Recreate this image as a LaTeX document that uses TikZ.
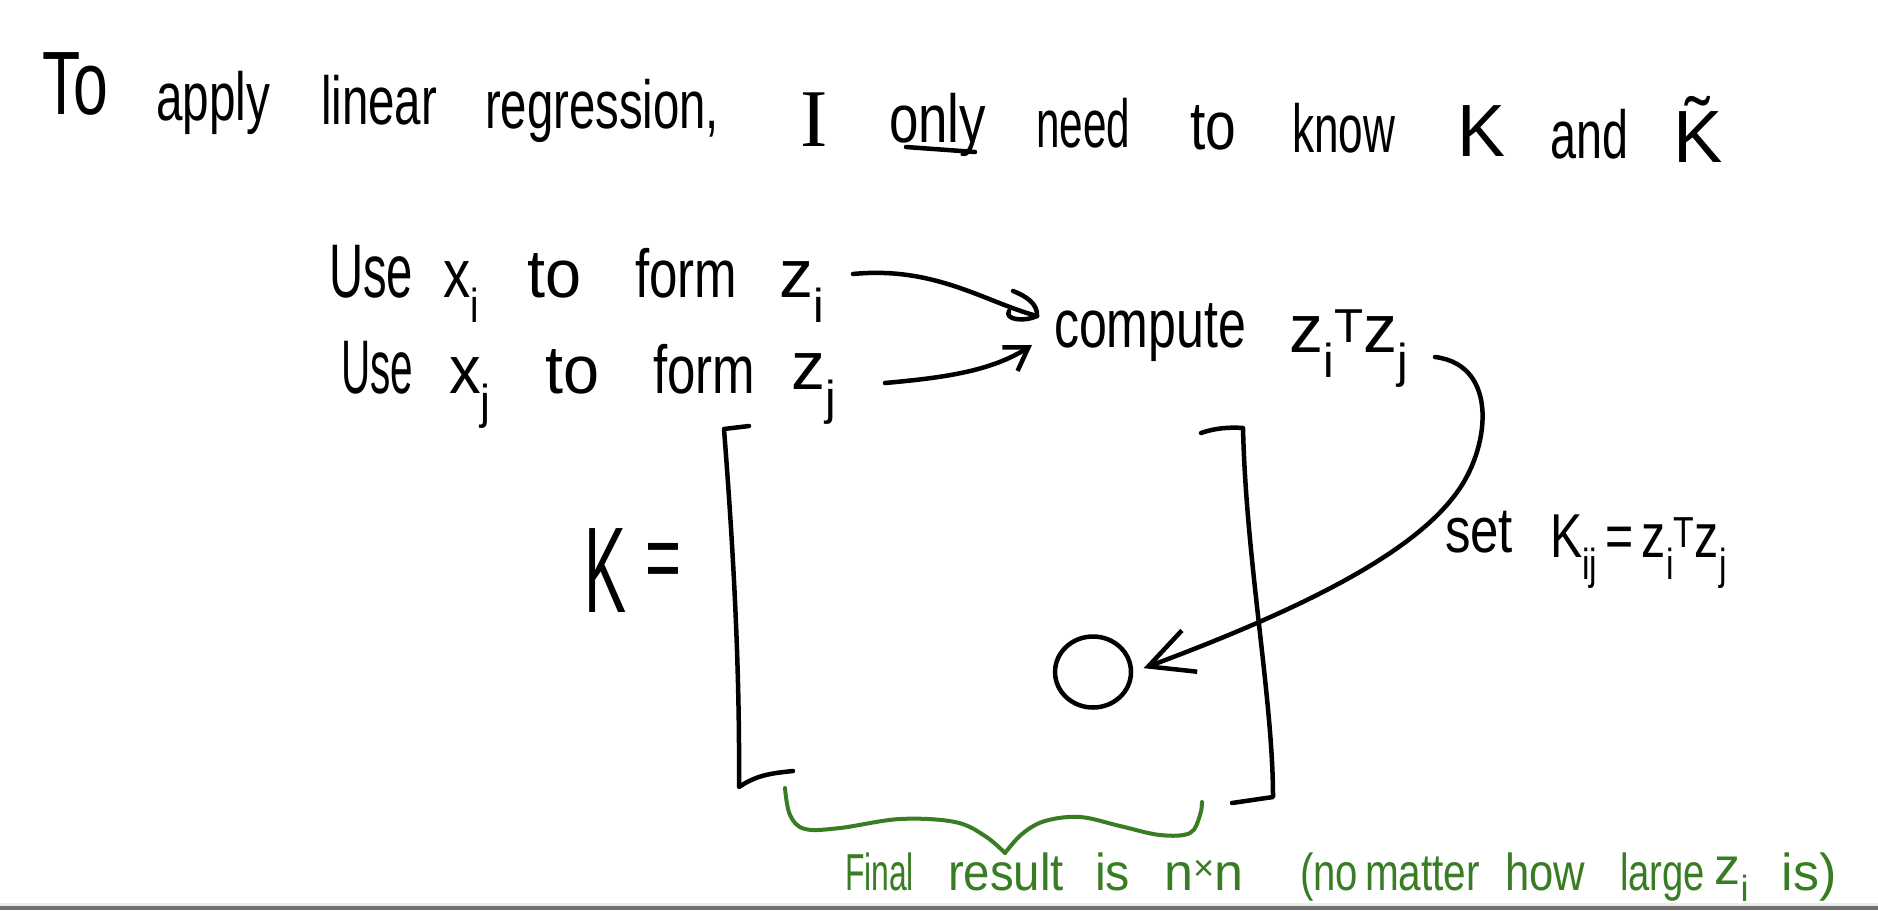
\documentclass[tikz,border=0pt]{standalone}
\usepackage{graphicx}
\usepackage{fontspec}
\setmainfont{Liberation Sans}
\newfontfamily\serifI{Liberation Serif}
\usetikzlibrary{arrows.meta,shapes.geometric}
\newsavebox{\hwbox}
\newcommand{\hw}[2]{\sbox{\hwbox}{#2}\ifdim\wd\hwbox>#1\relax\resizebox{#1}{\height}{\usebox{\hwbox}}\else\makebox[#1]{\usebox{\hwbox}}\fi}
\definecolor{pen}{RGB}{56,124,36}
\begin{document}
\begin{tikzpicture}[x=1pt,y=-1pt,
  word/.style={anchor=base west,inner sep=0pt,outer sep=0pt},
  tfont/.style={font=\fontsize{68}{80}\selectfont},
  lfont/.style={font=\fontsize{68}{80}\selectfont},
  gfont/.style={font=\fontsize{52}{60}\selectfont,text=pen},
  stroke/.style={line width=4.5pt,line cap=round,line join=round},
  gstroke/.style={line width=4pt,line cap=round,line join=round,draw=pen}]
\useasboundingbox (0,0) rectangle (1878,910);
\fill[white] (0,0) rectangle (1878,910);

% title
\node[word,font=\fontsize{90}{90}\selectfont] (tTo) at (42,114) {\hw{66pt}{To}};
\node[word,tfont] (tapply) at (156,120) {\hw{114pt}{apply}};
\node[word,tfont] (tlinear) at (321,124) {\hw{116pt}{linear}};
\node[word,tfont] (treg) at (485,128) {\hw{234pt}{regression,}};
\node[word,font=\serifI\fontsize{82}{90}\selectfont] (tI) at (800,146) {I};
\node[word,tfont] (tonly) at (889,142) {\hw{97pt}{only}};
\draw[stroke] (906,147) -- (975,152);
\node[word,tfont] (tneed) at (1036,147) {\hw{94pt}{need}};
\node[word,tfont] (tto) at (1190,149) {\hw{46pt}{to}};
\node[word,tfont] (tknow) at (1292,152) {\hw{103pt}{know}};
\node[word,font=\fontsize{74}{80}\selectfont] (tK) at (1457,156) {\hw{48pt}{K}};
\node[word,tfont] (tand) at (1550,158) {\hw{78pt}{and}};
\node[word,font=\fontsize{74}{80}\selectfont] (tKt) at (1669,162) {\hw{58pt}{\~{K}}};

% use lines
\node[word,font=\fontsize{76}{80}\selectfont] (u1) at (329,297) {\hw{84pt}{Use}};
\node[word,lfont] (x1) at (443,297) {\hw{36pt}{x\textsubscript{i}}};
\node[word,lfont] (to1) at (527,297) {\hw{54pt}{to}};
\node[word,lfont] (f1) at (635,297) {\hw{102pt}{form}};
\node[word,lfont] (z1) at (778,297) {\hw{48pt}{z\textsubscript{i}}};

\node[word,font=\fontsize{76}{80}\selectfont] (u2) at (341,393) {\hw{72pt}{Use}};
\node[word,lfont] (x2) at (449,393) {\hw{42pt}{x\textsubscript{j}}};
\node[word,lfont] (to2) at (545,393) {\hw{54pt}{to}};
\node[word,lfont] (f2) at (653,393) {\hw{102pt}{form}};
\node[word,lfont] (z2) at (790,389) {\hw{48pt}{z\textsubscript{j}}};

\node[word,lfont] (comp) at (1054,347) {\hw{192pt}{compute}};
\node[word,lfont] (zz) at (1287,352) {\hw{124pt}{z\textsubscript{i}\textsuperscript{T}z\textsubscript{j}}};

% short arrows
\coordinate (a1s) at (853,274);
\coordinate (a1e) at (1037,316);
\draw[stroke] (a1s) .. controls (935,266) and (985,302) .. (a1e);
\draw[stroke] (a1e) .. controls (1038,304) and (1026,296) .. (1013,291);
\draw[stroke] (a1e) .. controls (1025,322) and (1004,320) .. (1009,311);
\coordinate (a2s) at (885,383);
\coordinate (a2e) at (1032,345);
\draw[stroke,-{Straight Barb[length=22pt,width=28pt]}] (a2s) .. controls (940,378) and (990,372) .. (a2e);

% matrix
\node[word,font=\fontsize{122}{130}\selectfont] (bigK) at (584,612) {\hw{42pt}{K}};
\node[word,font=\fontsize{96}{100}\selectfont] (eq) at (645,590) {\hw{36pt}{=}};
\draw[stroke] (749,426) -- (724,429) .. controls (731,520) and (740,650) .. (739,787)
  .. controls (758,774) and (775,773) .. (793,771);
\draw[stroke] (1201,433) .. controls (1215,428) and (1230,427) .. (1243,428)
  .. controls (1246,560) and (1273,700) .. (1273,797) -- (1232,803);
\node[draw,ellipse,line width=4.5pt,minimum width=76pt,minimum height=71pt,inner sep=0pt] (entry) at (1093,672) {};

% long arrow
\coordinate (a3s) at (1435,357);
\draw[stroke,-{Straight Barb[length=44pt,width=44pt]},shorten >=11pt] (a3s)
  .. controls (1500,365) and (1490,450) .. (1455,495)
  .. controls (1410,555) and (1300,610) .. (entry.east);

\node[word,font=\fontsize{64}{70}\selectfont] (set) at (1445,552) {\hw{68pt}{set}};
\node[word,font=\fontsize{62}{70}\selectfont] (kij) at (1550,557) {\hw{177pt}{K\textsubscript{ij}\,=\,z\textsubscript{i}\textsuperscript{T}z\textsubscript{j}}};

% green brace
\draw[gstroke] plot[smooth,tension=0.6] coordinates {(785,788) (790,815) (805,829) (840,828) (900,819) (955,822) (985,836) (1005,853)};
\draw[gstroke] plot[smooth,tension=0.6] coordinates {(1005,853) (1022,834) (1045,821) (1080,817) (1120,826) (1160,835) (1190,833) (1200,815) (1202,802)};

% green text
\node[word,gfont] (g1) at (845,890) {\hw{69pt}{Final}};
\node[word,gfont] (g2) at (948,890) {\hw{116pt}{result}};
\node[word,gfont] (g3) at (1095,890) {\hw{35pt}{is}};
\node[word,gfont] (g4) at (1160,890) {\hw{88pt}{n\textsuperscript{×}n}};
\node[word,gfont] (g5) at (1300,890) {\hw{58pt}{(no}};
\node[word,gfont] (g6) at (1365,890) {\hw{115pt}{matter}};
\node[word,gfont] (g7) at (1505,890) {\hw{80pt}{how}};
\node[word,gfont] (g8) at (1620,890) {\hw{85pt}{large}};
\node[word,gfont] (g9) at (1712,884) {\hw{40pt}{z\textsubscript{i}}};
\node[word,gfont] (g10) at (1776,890) {\hw{66pt}{is)}};

% bottom bar
\fill[black!8] (0,903) rectangle (1878,906);
\fill[black!56] (0,906) rectangle (1878,910);
\end{tikzpicture}
\end{document}
